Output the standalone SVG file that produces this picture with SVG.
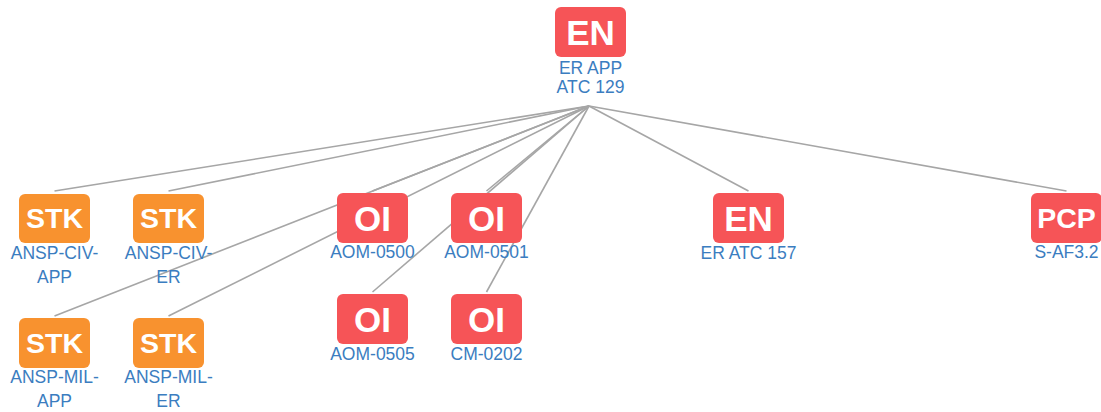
<svg xmlns="http://www.w3.org/2000/svg" width="1101" height="412" viewBox="0 0 1101 412">
<style>
.edge{stroke:#a6a6a6;stroke-width:1.6;fill:none}
.red{fill:#f65457}
.org{fill:#f8922f}
.ic{font-family:"Liberation Sans",Arial,sans-serif;font-weight:bold;fill:#fff;text-anchor:middle}
.i2{font-size:35px}
.i3{font-size:28.5px}
.lb{font-family:"Liberation Sans",Arial,sans-serif;font-size:17.5px;fill:#3b7dc0;text-anchor:middle}
</style>
<rect width="1101" height="412" fill="#fff"/>
<g id="connectors">
<line class="edge" x1="589" y1="106" x2="54.5" y2="191"/>
<line class="edge" x1="589" y1="106" x2="168.5" y2="191"/>
<line class="edge" x1="589" y1="106" x2="54.5" y2="316"/>
<line class="edge" x1="589" y1="106" x2="168.5" y2="316"/>
<line class="edge" x1="589" y1="106" x2="372.5" y2="191"/>
<line class="edge" x1="589" y1="106" x2="486.5" y2="191"/>
<line class="edge" x1="589" y1="106" x2="372.5" y2="292"/>
<line class="edge" x1="589" y1="106" x2="486.5" y2="292"/>
<line class="edge" x1="589" y1="106" x2="748.5" y2="191"/>
<line class="edge" x1="589" y1="106" x2="1066.5" y2="191"/>
</g>
<g id="n-er-app-atc-129">
<rect class="red" x="555" y="7" width="71" height="50" rx="6"/>
<text class="ic i2" x="590.5" y="44.5">EN</text>
<text class="lb" x="590.5" y="74">ER APP</text>
<text class="lb" x="590.5" y="93">ATC 129</text>
</g>
<g id="n-ansp-civ-app">
<rect class="org" x="19" y="194" width="71" height="49" rx="6"/>
<text class="ic i3" x="54.5" y="228">STK</text>
<text class="lb" x="54.5" y="259">ANSP-CIV-</text>
<text class="lb" x="54.5" y="283">APP</text>
</g>
<g id="n-ansp-civ-er">
<rect class="org" x="133" y="194" width="71" height="49" rx="6"/>
<text class="ic i3" x="168.5" y="228">STK</text>
<text class="lb" x="168.5" y="259">ANSP-CIV-</text>
<text class="lb" x="168.5" y="283">ER</text>
</g>
<g id="n-ansp-mil-app">
<rect class="org" x="19" y="318" width="71" height="50" rx="6"/>
<text class="ic i3" x="54.5" y="353">STK</text>
<text class="lb" x="54.5" y="383">ANSP-MIL-</text>
<text class="lb" x="54.5" y="407">APP</text>
</g>
<g id="n-ansp-mil-er">
<rect class="org" x="133" y="318" width="71" height="50" rx="6"/>
<text class="ic i3" x="168.5" y="353">STK</text>
<text class="lb" x="168.5" y="383">ANSP-MIL-</text>
<text class="lb" x="168.5" y="407">ER</text>
</g>
<g id="n-aom-0500">
<rect class="red" x="337" y="193" width="71" height="50" rx="6"/>
<text class="ic i2" x="372.5" y="230.5">OI</text>
<text class="lb" x="372.5" y="258">AOM-0500</text>
</g>
<g id="n-aom-0501">
<rect class="red" x="451" y="193" width="71" height="50" rx="6"/>
<text class="ic i2" x="486.5" y="230.5">OI</text>
<text class="lb" x="486.5" y="258">AOM-0501</text>
</g>
<g id="n-aom-0505">
<rect class="red" x="337" y="294" width="71" height="50" rx="6"/>
<text class="ic i2" x="372.5" y="331.5">OI</text>
<text class="lb" x="372.5" y="360">AOM-0505</text>
</g>
<g id="n-cm-0202">
<rect class="red" x="451" y="294" width="71" height="50" rx="6"/>
<text class="ic i2" x="486.5" y="331.5">OI</text>
<text class="lb" x="486.5" y="360">CM-0202</text>
</g>
<g id="n-er-atc-157">
<rect class="red" x="713" y="193" width="71" height="50" rx="6"/>
<text class="ic i2" x="748.5" y="230.5">EN</text>
<text class="lb" x="748.5" y="259">ER ATC 157</text>
</g>
<g id="n-s-af3-2">
<rect class="red" x="1031" y="193" width="71" height="50" rx="6"/>
<text class="ic i3" x="1066.5" y="228">PCP</text>
<text class="lb" x="1066.5" y="258">S-AF3.2</text>
</g>
</svg>
